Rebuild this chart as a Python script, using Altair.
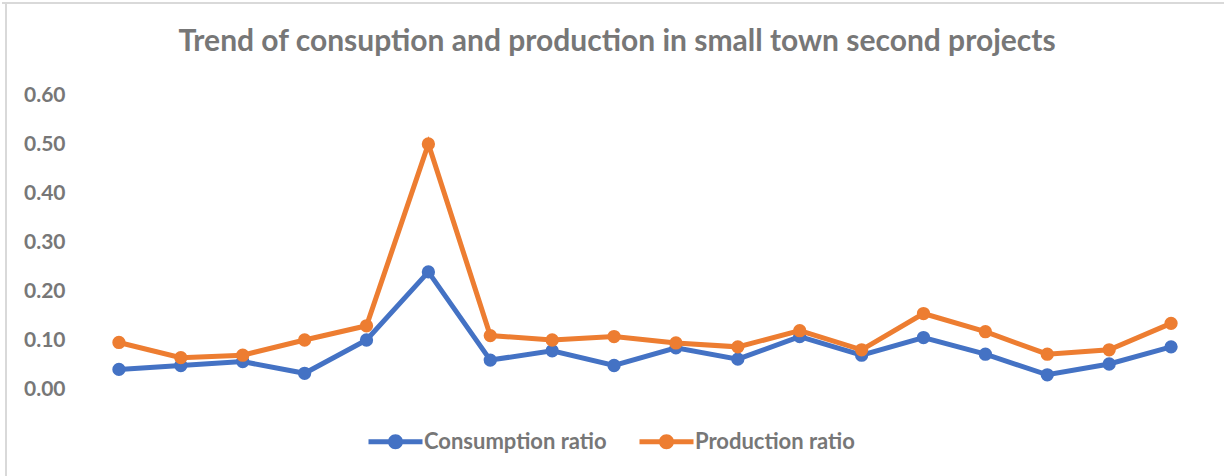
import altair as alt
import pandas as pd

projects = [str(i) for i in range(1, 19)]
consumption = [0.040, 0.048, 0.056, 0.032, 0.100, 0.239, 0.059, 0.078, 0.048,
               0.084, 0.061, 0.107, 0.069, 0.105, 0.071, 0.029, 0.051, 0.086]
production = [0.095, 0.064, 0.069, 0.100, 0.129, 0.500, 0.109, 0.100, 0.107,
              0.094, 0.086, 0.119, 0.080, 0.154, 0.117, 0.071, 0.080, 0.134]
series_names = ["Consumption ratio", "Production ratio"]
series_colors = ["#4472C4", "#ED7D31"]
y_ticks = [0.0, 0.1, 0.2, 0.3, 0.4, 0.5, 0.6]
title_text = "Trend of consuption and production in small town second projects"

df = pd.DataFrame({
    "project": projects + projects,
    "series": [series_names[0]] * len(projects) + [series_names[1]] * len(projects),
    "ratio": consumption + production,
})

TEXT = "#777777"
FONT = "Lato"

legend_path = ("M-2,-0.185H2V0.185H-2Z "
               "M0.556,0A0.556,0.556 0 1,1 -0.556,0A0.556,0.556 0 1,1 0.556,0Z")

color = alt.Color(
    "series:N",
    scale=alt.Scale(domain=series_names, range=series_colors),
    legend=alt.Legend(
        title=None, orient="none", direction="horizontal",
        legendX=294, legendY=333,
        symbolType=legend_path, symbolSize=729, symbolStrokeWidth=0,
        symbolOpacity=1, labelLimit=0,
        labelFont=FONT, labelFontWeight="bold", labelFontSize=22, labelColor=TEXT,
        labelOffset=15, columnPadding=32, symbolOffset=0,
    ),
)

x = alt.X("project:O", sort=projects, axis=None,
          scale=alt.Scale(type="point", padding=0.5))
y = alt.Y("ratio:Q", scale=alt.Scale(domain=[0, 0.6], nice=False),
          axis=alt.Axis(values=y_ticks, format=".2f", grid=False, domain=False,
                        ticks=False, labelFont=FONT, labelFontWeight="bold",
                        labelFontSize=21, labelColor=TEXT, labelPadding=23,
                        title=None))

layers = []
for name, col in zip(series_names, series_colors):
    base = alt.Chart(df).transform_filter(alt.datum.series == name)
    layers.append(base.mark_line(strokeWidth=5, color=col).encode(x=x, y=y))
    layers.append(base.mark_circle(size=177, opacity=1).encode(x=x, y=y, color=color))

border_top = alt.Chart(df).mark_rule(color="#d9d9d9", strokeWidth=2).encode(
    x=alt.value(-86), x2=alt.value(1140), y=alt.value(-92))
border_left = alt.Chart(df).mark_rule(color="#d9d9d9", strokeWidth=2).encode(
    x=alt.value(-82), y=alt.value(-93), y2=alt.value(400))

chart = alt.layer(border_top, border_left, *layers).properties(
    width=1114, height=294,
    padding={"left": 88, "top": 95, "right": 22, "bottom": 87},
    autosize=alt.AutoSizeParams(type="none"),
    title=alt.TitleParams(title_text, font=FONT, fontWeight="bold", fontSize=30,
                          color=TEXT, anchor="middle", dx=-28, baseline="alphabetic",
                          offset=-80),
).configure_view(stroke=None)

chart.save("out.html", embed_options={"renderer": "svg", "actions": False})
